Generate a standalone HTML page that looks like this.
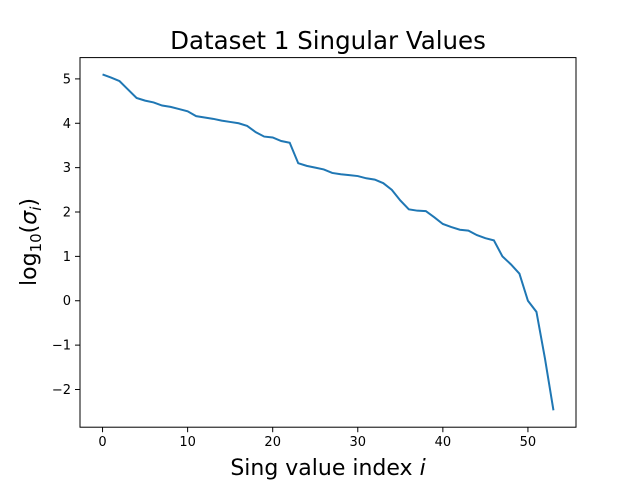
<!DOCTYPE html>
<html><head><meta charset="utf-8"><style>body{margin:0;background:#fff}svg{display:block}text{font-family:"DejaVu Sans","Liberation Sans",sans-serif}</style></head>
<body>
<svg id="chart" width="640" height="480" xmlns="http://www.w3.org/2000/svg"></svg>
<script>
const yValues=[5.1,5.03,4.95,4.76,4.57,4.51,4.47,4.4,4.37,4.32,4.27,4.16,4.13,4.1,4.06,4.03,4.0,3.94,3.8,3.7,3.68,3.6,3.56,3.1,3.04,3.0,2.96,2.88,2.85,2.83,2.81,2.76,2.73,2.65,2.5,2.26,2.06,2.03,2.02,1.88,1.73,1.66,1.6,1.58,1.48,1.41,1.36,1.0,0.82,0.61,0.0,-0.25,-1.3,-2.47];
const xTicks=[0,10,20,30,40,50];
const yTicks=[-2,-1,0,1,2,3,4,5];
const NS="http://www.w3.org/2000/svg";
const svg=document.getElementById('chart');
const L=80,R=576,T=57.6,B=427.2;
const xmin=-2.65,xmax=55.65,ymin=-2.85,ymax=5.48;
const xs=v=>L+(v-xmin)/(xmax-xmin)*(R-L);
const ys=v=>B-(v-ymin)/(ymax-ymin)*(B-T);
function el(t,a,p){const e=document.createElementNS(NS,t);for(const k in a)e.setAttribute(k,a[k]);(p||svg).appendChild(e);return e;}
const line=el('polyline',{points:yValues.map((v,i)=>xs(i)+','+ys(v)).join(' '),fill:'none',stroke:'#1f77b4','stroke-width':2});


const frame=el('rect',{x:L,y:T,width:R-L,height:B-T,fill:'none',stroke:'#000','stroke-width':1});


xTicks.forEach(v=>{const x=xs(v);
el('line',{x1:x,x2:x,y1:B,y2:B+5,stroke:'#000','stroke-width':1});
const t=el('text',{x:x,y:B+19,'text-anchor':'middle','font-size':13});t.textContent=v;

});
yTicks.forEach(v=>{const y=ys(v);
el('line',{x1:L-5,x2:L,y1:y,y2:y,stroke:'#000','stroke-width':1});
const t=el('text',{x:L-9,y:y+4.5,'text-anchor':'end','font-size':13});t.textContent=v<0?'\u2212'+(-v):v;

});
</script>
<svg style="position:absolute;left:0;top:0" width="640" height="480" xmlns="http://www.w3.org/2000/svg">
<text x="328" y="49" text-anchor="middle" font-size="24.5" font-family="DejaVu Sans,sans-serif">Dataset 1 Singular Values</text>
<text x="328" y="475" text-anchor="middle" font-size="22" font-family="DejaVu Sans,sans-serif">Sing value index <tspan font-style="italic">i</tspan></text>
<text transform="translate(36,242) rotate(-90)" text-anchor="middle" font-size="22" font-family="DejaVu Sans,sans-serif">log<tspan font-size="15" dy="5">10</tspan><tspan dy="-5">(</tspan><tspan font-style="italic">σ</tspan><tspan font-style="italic" font-size="15" dy="5">i</tspan><tspan dy="-5">)</tspan></text>
</svg>
</body></html>
